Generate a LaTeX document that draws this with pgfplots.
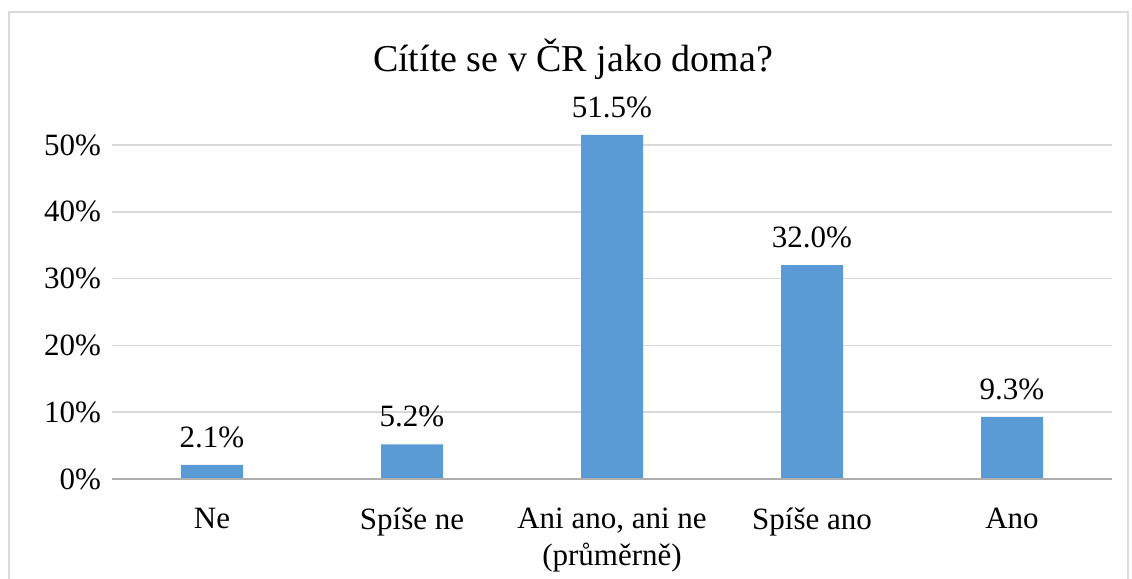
\documentclass[border=0pt]{standalone}
\usepackage{pgfplots}
\pgfplotsset{compat=1.18}
\usepackage{fontspec}
\setmainfont{Liberation Serif}
\definecolor{barblue}{HTML}{5B9BD5}
\definecolor{gridgray}{HTML}{D9D9D9}
\begin{document}
\begin{tikzpicture}
\useasboundingbox (0,0) rectangle (566pt,289.5pt);
\draw[gridgray!90!black!60, line width=1pt] (4.5pt,-5pt) -- (4.5pt,283.5pt) -- (564pt,283.5pt) -- (564pt,-5pt);
\node[anchor=base, font=\fontsize{19}{22}\selectfont] at (286.5pt,253.5pt) {Cítíte se v ČR jako doma?};
\begin{axis}[
  at={(56pt,50pt)}, anchor=south west,
  scale only axis, width=500pt, height=167pt,
  xmin=-0.5, xmax=4.5, ymin=0, ymax=50,
  clip=false,
  axis line style={draw=none},
  major tick length=0pt,
  xtick={0,1,2,3,4},
  xticklabels={Ne, Spíše ne, {Ani ano, ani ne\\(průměrně)}, Spíše ano, Ano},
  xticklabel style={align=center, font=\fontsize{15.5}{18.5}\selectfont, yshift=-11pt},
  ytick={0,10,20,30,40,50},
  yticklabel={\pgfmathprintnumber{\tick}\%},
  yticklabel style={font=\fontsize{15.5}{18}\selectfont, xshift=-2pt},
  /pgf/number format/assume math mode=true,
  ymajorgrids, grid style={gridgray, line width=0.75pt},
  ybar, bar width=31pt,
  nodes near coords={\pgfmathprintnumber[fixed,fixed zerofill,precision=1]{\pgfplotspointmeta}\%},
  every node near coord/.append style={font=\fontsize{15.5}{18}\selectfont, yshift=5pt, /pgf/number format/assume math mode=true},
]
\addplot[fill=barblue, draw=none] coordinates {(0,2.1) (1,5.2) (2,51.5) (3,32.0) (4,9.3)};
\draw[gridgray!80!black, line width=0.75pt] (axis cs:-0.5,0) -- (axis cs:4.5,0);
\end{axis}
\end{tikzpicture}
\end{document}
